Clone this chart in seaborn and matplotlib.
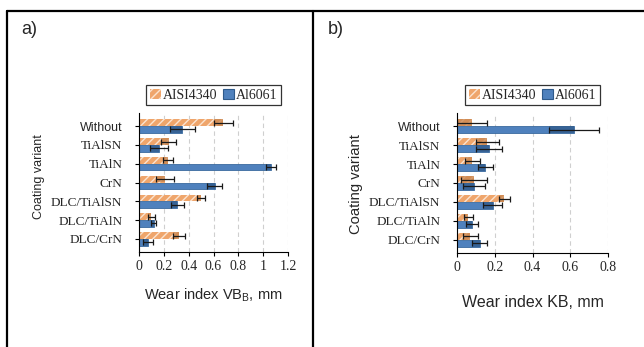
import matplotlib
matplotlib.use("Agg")
import matplotlib.pyplot as plt
import seaborn as sns
import pandas as pd
import numpy as np
from matplotlib.lines import Line2D
from matplotlib.patches import Patch
from matplotlib.ticker import FuncFormatter

# ---------------- data ----------------
categories = ["Without", "TiAlSN", "TiAlN", "CrN", "DLC/TiAlSN", "DLC/TiAlN", "DLC/CrN"]
materials = ["AISI4340", "Al6061"]

# panel a) wear index VB_B, mm
vb_aisi = [0.68, 0.24, 0.23, 0.21, 0.50, 0.10, 0.32]
vb_aisi_err = [0.08, 0.06, 0.04, 0.07, 0.03, 0.03, 0.05]
vb_al = [0.35, 0.16, 1.06, 0.61, 0.31, 0.12, 0.07]
vb_al_err = [0.10, 0.07, 0.04, 0.06, 0.05, 0.02, 0.04]

# panel b) wear index KB, mm
kb_aisi = [0.08, 0.16, 0.08, 0.09, 0.25, 0.06, 0.07]
kb_aisi_err = [0.08, 0.06, 0.04, 0.07, 0.03, 0.025, 0.04]
kb_al = [0.62, 0.17, 0.15, 0.09, 0.19, 0.08, 0.12]
kb_al_err = [0.13, 0.07, 0.04, 0.06, 0.05, 0.03, 0.04]

xticks_a = [0, 0.2, 0.4, 0.6, 0.8, 1.0, 1.2]
xticks_b = [0, 0.2, 0.4, 0.6, 0.8]

# ---------------- style ----------------
sns.set_style("white")
plt.rcParams["font.family"] = ["Liberation Serif", "DejaVu Serif"]
plt.rcParams["hatch.linewidth"] = 1.0

ORANGE = "#EFA56B"
ORANGE_DARK = "#C9854E"
BLUE = "#4F81BD"
BLUE_DARK = "#2F5A8A"
SANS = ["Liberation Sans", "DejaVu Sans"]
SERIF = ["Liberation Serif", "DejaVu Serif"]

fig = plt.figure(figsize=(6.44, 3.47), dpi=100)
W, H = 644, 347


def fx(px):
    return px / W


def fy(py):
    return 1 - py / H


# table-like frame
lw_frame = 1.6
fig.add_artist(Line2D([fx(7), 1.0], [fy(11), fy(11)], color="black", lw=lw_frame))
fig.add_artist(Line2D([fx(7), fx(7)], [fy(11), 0], color="black", lw=lw_frame))
fig.add_artist(Line2D([fx(313), fx(313)], [fy(11), 0], color="black", lw=lw_frame))
fig.text(fx(21), fy(29), "a)", family=SANS, fontsize=13, va="center", ha="left")
fig.text(fx(328), fy(29), "b)", family=SANS, fontsize=13, va="center", ha="left")


def panel(rect, v1, e1, v2, e2, xmax, xticks, xlabel, ylab_pos, ylab_size,
          xlab_pos, xlab_size):
    ax = fig.add_axes(rect)
    df = pd.DataFrame({
        "Coating": categories * 2,
        "Material": [materials[0]] * len(categories) + [materials[1]] * len(categories),
        "value": list(v1) + list(v2),
    })
    sns.barplot(data=df, y="Coating", x="value", hue="Material", orient="h",
                hue_order=materials, order=categories, palette=[ORANGE, BLUE],
                width=0.72, errorbar=None, legend=False, saturation=1, ax=ax,
                zorder=3)
    errs_all = [e1, e2]
    darks = [ORANGE_DARK, BLUE_DARK]
    for ci, cont in enumerate(ax.containers[:2]):
        ys, hs, vals = [], [], []
        for p in cont.patches:
            ys.append(p.get_y() + p.get_height() / 2)
            hs.append(p.get_height())
            vals.append(p.get_width())
            if ci == 0:
                p.set_hatch("////")
                p.set_edgecolor("#FBE3CF")
                p.set_linewidth(0)
            else:
                p.set_edgecolor("#3A6A9E")
                p.set_linewidth(0.6)
        vals = np.array(vals)
        errs = np.array(errs_all[ci])
        ax.barh(ys, errs, left=vals - errs, height=hs[0], color=darks[ci],
                alpha=0.75, zorder=4, linewidth=0)
        ax.errorbar(vals, ys, xerr=errs, fmt="none", ecolor="#1a1a1a",
                    elinewidth=0.9, capsize=2.2, capthick=0.9, zorder=5)

    ax.set_xlim(0, xmax)
    ax.set_xticks(xticks)
    ax.xaxis.set_major_formatter(FuncFormatter(lambda v, p: "%g" % round(v, 2)))
    ax.xaxis.grid(True, linestyle=(0, (4, 3)), color="#cfcfcf", lw=0.8, zorder=0)
    ax.yaxis.grid(False)
    for s in ["top", "right"]:
        ax.spines[s].set_visible(False)
    for s in ["left", "bottom"]:
        ax.spines[s].set_color("black")
        ax.spines[s].set_linewidth(0.8)
        ax.spines[s].set_zorder(6)
    ax.tick_params(axis="x", direction="out", length=3, width=0.8, labelsize=10, pad=3,
                   color="black", bottom=True)
    ax.tick_params(axis="y", direction="out", length=3, width=0.8, labelsize=9.5, pad=9,
                   color="black", left=True)
    for lab in ax.get_yticklabels():
        lab.set_fontfamily(SERIF)
        if lab.get_text() == "Without":
            lab.set_fontfamily(SANS)
            lab.set_fontsize(9)
    for lab in ax.get_xticklabels():
        lab.set_fontfamily(SERIF)

    ax.set_ylabel("Coating variant", family=SANS, fontsize=ylab_size)
    ax.yaxis.set_label_coords(*ylab_pos)
    ax.set_xlabel(xlabel, family=SANS, fontsize=xlab_size)
    ax.xaxis.set_label_coords(*xlab_pos)

    handles = [Patch(facecolor=ORANGE, edgecolor="#FBE3CF", hatch="////", lw=0),
               Patch(facecolor=BLUE, edgecolor="#2F5A8A", lw=0.8)]
    leg = ax.legend(handles, materials, ncol=2, loc="lower center",
                    bbox_to_anchor=(0.5, 1.055), frameon=True, fancybox=False,
                    edgecolor="black", handlelength=0.8,
                    handleheight=0.8, handletextpad=0.15, columnspacing=0.4,
                    borderpad=0.25, borderaxespad=0, prop={"family": SERIF, "size": 10})
    leg.get_frame().set_linewidth(0.9)
    return ax


panel([fx(139), fy(252), (288 - 139) / W, (252 - 113) / H],
      vb_aisi, vb_aisi_err, vb_al, vb_al_err, 1.2, xticks_a,
      r"Wear index VB$_\mathregular{B}$, mm", (-0.63, 0.54), 9,
      (0.5, -0.25), 10.5)
panel([fx(457), fy(253), (608 - 457) / W, (253 - 113) / H],
      kb_aisi, kb_aisi_err, kb_al, kb_al_err, 0.8, xticks_b,
      "Wear index KB, mm", (-0.62, 0.49), 10.6,
      (0.5, -0.30), 11.5)

fig.savefig("out.png", dpi=100)
